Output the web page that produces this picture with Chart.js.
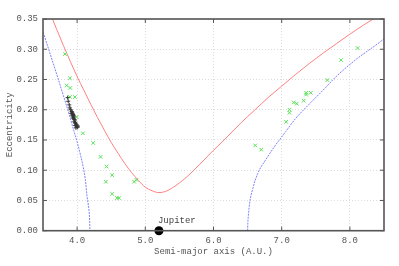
<!DOCTYPE html>
<html>
<head>
<meta charset="utf-8">
<script src="https://cdn.jsdelivr.net/npm/chart.js@4/dist/chart.umd.min.js"></script>
<style>
body{margin:0;background:#fff}
#wrap{width:399px;height:266px}
</style>
</head>
<body>
<div id="wrap"><canvas id="myChart" width="399" height="266"></canvas></div>
<script>
// semi-major axis (A.U.) / eccentricity
const red_a=[3.60,3.70,3.80,3.90,4.00,4.10,4.20,4.30,4.40,4.50,4.60,4.70,4.80,4.90,5.00,5.10,5.20,5.30,5.40,5.50,5.60,5.80,6.00,6.20,6.40,6.60,6.80,7.00,7.20,7.40,7.60,7.80,8.00,8.20,8.40]
const red_e=[0.361,0.333,0.306,0.280,0.255,0.232,0.209,0.187,0.166,0.146,0.128,0.111,0.096,0.083,0.072,0.066,0.063,0.065,0.071,0.079,0.088,0.110,0.133,0.155,0.178,0.199,0.220,0.239,0.258,0.276,0.293,0.309,0.325,0.340,0.354]

const blueL_a=[3.45,3.50,3.60,3.70,3.80,3.90,3.95,4.00,4.05,4.09,4.12,4.148,4.17,4.182,4.188]
const blueL_e=[0.347,0.329,0.294,0.259,0.223,0.186,0.166,0.147,0.125,0.105,0.085,0.055,0.038,0.022,0.000]

const blueR_a=[6.500,6.504,6.515,6.529,6.577,6.65,6.77,6.90,7.06,7.20,7.41,7.63,7.80,8.10,8.43,8.55]
const blueR_e=[0.000,0.013,0.030,0.045,0.070,0.095,0.118,0.140,0.164,0.185,0.210,0.235,0.255,0.284,0.311,0.322]

const green_a=[3.822,3.895,3.847,3.900,3.895,3.968,3.993,4.085,4.236,4.344,4.432,4.514,4.422,4.514,4.583,4.617,4.836,4.871,
  8.113,7.870,7.670,7.426,7.358,7.358,7.323,7.177,7.221,7.114,7.114,7.065,6.612,6.700]
const green_e=[0.292,0.252,0.240,0.236,0.221,0.221,0.188,0.161,0.145,0.122,0.106,0.092,0.081,0.061,0.054,0.054,0.081,0.084,
  0.302,0.282,0.249,0.228,0.228,0.225,0.215,0.212,0.210,0.200,0.195,0.180,0.141,0.134]

const black_a=[3.861,3.870,3.885,3.895,3.905,3.920,3.929,3.914,3.935,3.943,3.929,3.949,3.935,3.954,3.943,3.958,3.968,3.958,3.973,3.978,3.987,3.973,3.993,4.008,3.983,4.012]
const black_e=[0.220,0.214,0.208,0.203,0.200,0.197,0.196,0.194,0.194,0.192,0.191,0.190,0.188,0.188,0.186,0.184,0.183,0.180,0.179,0.177,0.176,0.174,0.173,0.171,0.170,0.173]

const jupiter={a:5.2,e:0.0,name:"Jupiter"}

const xTicks=[4,5,6,7,8]
const monoFont="'Liberation Mono', 'DejaVu Sans Mono', monospace"

function pts(xs,ys){
	return xs.map((x,i)=>({x:x,y:ys[i]}))
}

// gnuplot style frame: box on all four sides with inward ticks, plus Jupiter label
const framePlugin={
	id:'frame',
	afterDatasetsDraw(chart){
		const c=chart.ctx, ar=chart.chartArea
		const sx=chart.scales.x, sy=chart.scales.y
		c.save()
		c.strokeStyle='#555'
		c.lineWidth=1
		c.beginPath()
		xTicks.forEach(v=>{
			const px=sx.getPixelForValue(v)
			c.moveTo(px,ar.bottom);c.lineTo(px,ar.bottom-4)
			c.moveTo(px,ar.top);c.lineTo(px,ar.top+4)
		})
		sy.ticks.forEach(t=>{
			const py=sy.getPixelForValue(t.value)
			c.moveTo(ar.left,py);c.lineTo(ar.left+4,py)
			c.moveTo(ar.right,py);c.lineTo(ar.right-4,py)
		})
		c.stroke()
		c.lineWidth=1.6
		c.strokeRect(ar.left,ar.top,ar.right-ar.left,ar.bottom-ar.top)
		// label for Jupiter
		c.fillStyle='#444'
		c.font="9px "+monoFont
		c.textAlign='left'
		c.textBaseline='alphabetic'
		c.fillText(jupiter.name,sx.getPixelForValue(jupiter.a)-1,sy.getPixelForValue(jupiter.e)-8)
		c.restore()
	}
}

var ctx=document.getElementById('myChart').getContext('2d')
let myChart=new Chart(ctx,{
	type:'scatter',
	data:{
		datasets:[
		{
			label:'T red',
			data:pts(red_a,red_e),
			showLine:true,
			borderColor:'#ff8080',
			borderWidth:1,
			pointRadius:0,
			cubicInterpolationMode:'monotone',
			order:3
		},
		{
			label:'T blue left',
			data:pts(blueL_a,blueL_e),
			showLine:true,
			borderColor:'#8080ff',
			borderWidth:1,
			borderDash:[2,1],
			pointRadius:0,
			cubicInterpolationMode:'monotone',
			order:3
		},
		{
			label:'T blue right',
			data:pts(blueR_a,blueR_e),
			showLine:true,
			borderColor:'#8080ff',
			borderWidth:1,
			borderDash:[2,1],
			pointRadius:0,
			cubicInterpolationMode:'monotone',
			order:3
		},
		{
			label:'green',
			data:pts(green_a,green_e),
			pointStyle:'crossRot',
			pointRadius:2.5,
			borderColor:'#55e055',
			borderWidth:1,
			order:2
		},
		{
			label:'black',
			data:pts(black_a,black_e),
			pointStyle:'cross',
			pointRadius:2,
			borderColor:'#333',
			borderWidth:1,
			order:1
		},
		{
			label:'Jupiter',
			data:[{x:jupiter.a,y:jupiter.e}],
			pointStyle:'circle',
			pointRadius:4.5,
			backgroundColor:'#000',
			borderColor:'#000',
			borderWidth:0,
			clip:false,
			order:0
		}
		]
	},
	options:{
		responsive:false,
		animation:false,
		layout:{padding:{top:19,right:15,left:0,bottom:0}},
		plugins:{legend:{display:false},tooltip:{enabled:false}},
		scales:{
			x:{
				type:'linear',
				min:3.5,max:8.5,
				afterBuildTicks:(s)=>{s.ticks=xTicks.map(v=>({value:v}))},
				afterFit:(s)=>{s.height=35.3},
				grid:{color:'#dcdcdc',drawTicks:false},
				border:{display:false,dash:[1,2]},
				ticks:{padding:5,color:'#555',font:{family:monoFont,size:9},callback:v=>v.toFixed(1)},
				title:{display:true,text:'Semi-major axis (A.U.)',color:'#555',font:{family:monoFont,size:9},padding:{top:0,bottom:8.6}}
			},
			y:{
				min:0,max:0.35,
				ticks:{stepSize:0.05,padding:5,color:'#555',font:{family:monoFont,size:9},callback:v=>v.toFixed(2)},
				afterFit:(s)=>{s.width=43},
				grid:{color:'#dcdcdc',drawTicks:false},
				border:{display:false,dash:[1,2]},
				title:{display:true,text:'Eccentricity',color:'#555',font:{family:monoFont,size:9},padding:{top:4.6,bottom:0}}
			}
		}
	},
	plugins:[framePlugin]
})
</script>
</body>
</html>
